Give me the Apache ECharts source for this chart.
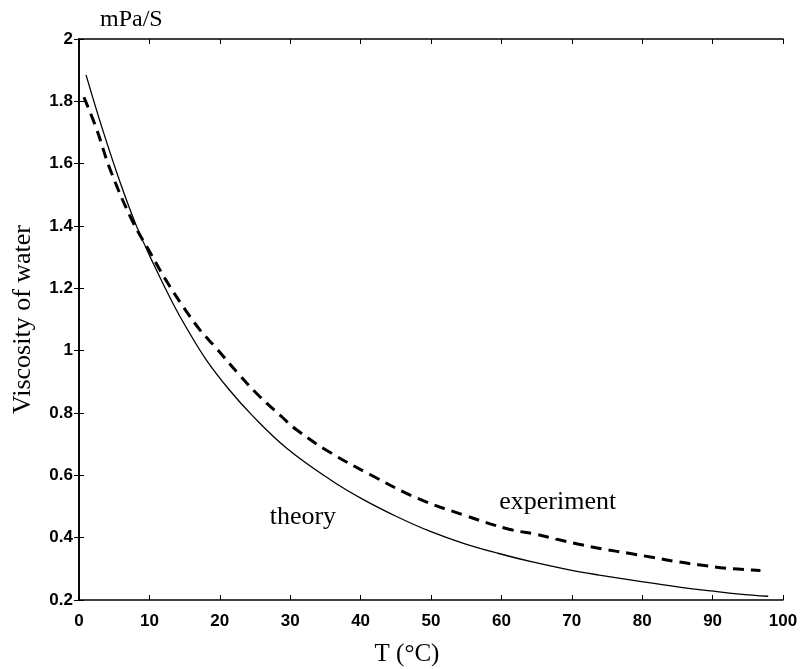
<!DOCTYPE html>
<html>
<head>
<meta charset="utf-8">
<script src="https://cdn.jsdelivr.net/npm/echarts@6/dist/echarts.min.js"></script>
<style>
html,body{margin:0;padding:0;background:#fff;}
#c{width:803px;height:669px;}
</style>
</head>
<body>
<div id="c"></div>
<script>
// Temperature (°C) and viscosity (mPa/S)
const theoryT = [1.0, 3.4, 6.0, 8.2, 10.5, 13.4, 15.3, 18.1, 21.4, 24.7, 29.5, 35.7, 40.4, 45.1, 49.9, 54.6, 59.5, 64.4, 69.8, 73.9, 79.9, 84.8, 89.8, 93.8, 97.9];
const theoryV = [1.885, 1.706, 1.53, 1.398, 1.282, 1.149, 1.072, 0.97, 0.873, 0.79, 0.687, 0.586, 0.522, 0.468, 0.42, 0.382, 0.35, 0.322, 0.296, 0.28, 0.259, 0.243, 0.229, 0.219, 0.212];
const experimentT = [0.7, 2.5, 4.4, 7.5, 10.3, 12.2, 14.8, 17.2, 19.5, 22.8, 25.7, 28.8, 30.9, 35.7, 41.4, 48.0, 54.6, 61.1, 64.9, 67.7, 71.0, 74.3, 78.1, 81.4, 85.2, 88.0, 91.9, 95.6, 96.8];
const experimentV = [1.813, 1.711, 1.583, 1.42, 1.307, 1.232, 1.141, 1.066, 1.008, 0.922, 0.852, 0.788, 0.746, 0.673, 0.602, 0.527, 0.473, 0.427, 0.411, 0.396, 0.379, 0.364, 0.35, 0.337, 0.322, 0.313, 0.302, 0.296, 0.295];
const xTicks = [0, 10, 20, 30, 40, 50, 60, 70, 80, 90, 100];
const yTicks = [0.2, 0.4, 0.6, 0.8, 1, 1.2, 1.4, 1.6, 1.8, 2];
const curveLabels = ['theory', 'experiment'];
const labelAnchors = [[31.8, 0.466], [68.0, 0.513]];
const unitText = 'mPa/S';
const xTitle = 'T (°C)';
const yTitle = 'Viscosity of water';

const zip = (a, b) => a.map((v, i) => [v, b[i]]);
const serif = '"Liberation Serif", "DejaVu Serif", serif';
const sans = '"Liberation Sans", Arial, sans-serif';

const chart = echarts.init(document.getElementById('c'), null, {renderer: 'canvas'});
const axisLine = {show: true, lineStyle: {color: '#000', width: 1.6}};
const tickIn = {show: true, inside: true, length: 5, lineStyle: {color: '#000', width: 1}};
chart.setOption({
  animation: false,
  backgroundColor: '#fff',
  grid: {left: 79, right: 20, top: 39, bottom: 69, containLabel: false},
  graphic: [{
    type: 'text', left: 100, top: 8,
    style: {text: unitText, font: '24px ' + serif, fill: '#000'}
  }, {
    type: 'text', x: 407, y: 654,
    style: {text: xTitle, font: '25px ' + serif, fill: '#000', align: 'center', verticalAlign: 'middle'}
  }],
  xAxis: [{
    type: 'value', min: xTicks[0], max: xTicks[xTicks.length - 1], interval: 10,
    position: 'bottom',
    axisLine: axisLine, axisTick: tickIn, splitLine: {show: false},
    axisLabel: {color: '#000', fontFamily: sans, fontWeight: 'bold', fontSize: 17, margin: 13}
  }, {
    type: 'value', min: xTicks[0], max: xTicks[xTicks.length - 1], interval: 10,
    position: 'top',
    axisLine: axisLine, axisTick: tickIn, splitLine: {show: false},
    axisLabel: {show: false}
  }],
  yAxis: [{
    type: 'value', min: yTicks[0], max: yTicks[yTicks.length - 1], interval: 0.2,
    position: 'left',
    name: yTitle, nameLocation: 'middle', nameGap: 43, nameRotate: 90,
    nameTextStyle: {fontFamily: serif, fontSize: 26, color: '#000'},
    axisLine: axisLine, axisTick: tickIn, splitLine: {show: false},
    axisLabel: {color: '#000', fontFamily: sans, fontWeight: 'bold', fontSize: 17, margin: 6,
      formatter: v => String(Math.round(v * 10) / 10)}
  }, {
    type: 'value', min: yTicks[0], max: yTicks[yTicks.length - 1], interval: 0.2,
    position: 'right',
    axisLine: axisLine, axisTick: tickIn, splitLine: {show: false},
    axisLabel: {show: false}
  }],
  series: [{
    name: 'theory', type: 'line', smooth: 0.4, showSymbol: false, symbol: 'none',
    data: zip(theoryT, theoryV),
    lineStyle: {color: '#000', width: 1.3, type: 'solid'}
  }, {
    name: 'experiment', type: 'line', smooth: 0.4, showSymbol: false, symbol: 'none',
    data: zip(experimentT, experimentV),
    lineStyle: {color: '#000', width: 3, type: [11, 7]}
  }, {
    type: 'scatter', symbolSize: 0, silent: true,
    itemStyle: {opacity: 1},
    data: labelAnchors.map((p, i) => ({value: p, name: curveLabels[i]})),
    label: {show: true, position: 'inside', formatter: p => p.name,
      fontFamily: serif, fontSize: 26, color: '#000', opacity: 1}
  }]
});
</script>
</body>
</html>
